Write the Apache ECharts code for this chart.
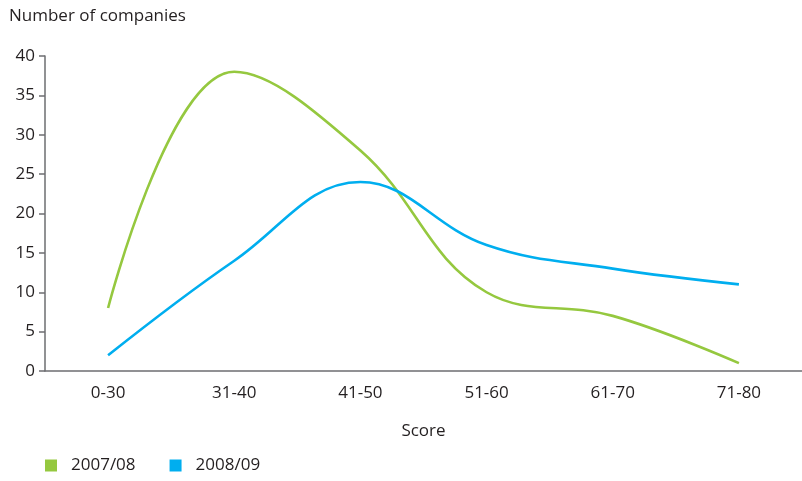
<!DOCTYPE html>
<html>
<head>
<meta charset="utf-8">
<script src="https://cdn.jsdelivr.net/npm/echarts@6/dist/echarts.min.js"></script>
<style>
  html, body { margin: 0; padding: 0; background: #fff; }
  #chart { width: 802px; height: 481px; }
</style>
</head>
<body>
<div id="chart"></div>
<script>
// Score bands and the number of companies in each, per reporting year
const scoreBands = ['0-30', '31-40', '41-50', '51-60', '61-70', '71-80'];
const seriesNames = ['2007/08', '2008/09'];
const companies2007 = [8, 38, 28, 10, 7, 1];
const companies2008 = [2, 14, 24, 16, 13, 11];
const yTicks = [0, 5, 10, 15, 20, 25, 30, 35, 40];

const FONT = '"Open Sans", "Noto Sans", sans-serif';
const TEXT = '#231f20';
const AXIS = '#6d6e71';
const GREEN = '#95c83f';
const BLUE = '#00aeef';

const chart = echarts.init(document.getElementById('chart'));

chart.setOption({
  animation: false,
  textStyle: { fontFamily: FONT },
  title: {
    text: 'Number of companies',
    left: 4,
    top: 3,
    textStyle: { fontFamily: FONT, fontSize: 17, fontWeight: 'normal', color: TEXT }
  },
  legend: {
    left: 40,
    bottom: 2,
    itemWidth: 12,
    itemHeight: 12,
    itemGap: 34,
    icon: 'rect',
    textStyle: { fontFamily: FONT, fontSize: 17, color: TEXT, padding: [0, 0, 0, 9] },
    data: seriesNames.map(n => ({ name: n, icon: 'rect' }))
  },
  grid: {
    left: 45,
    top: 56,
    width: 764,
    bottom: 110,
    containLabel: false
  },
  xAxis: {
    type: 'category',
    data: scoreBands,
    boundaryGap: true,
    name: 'Score',
    nameLocation: 'middle',
    nameGap: 52,
    nameTextStyle: { fontFamily: FONT, fontSize: 17, color: TEXT },
    axisLine: { lineStyle: { color: AXIS, width: 1.5 } },
    axisTick: { alignWithLabel: true, length: 7, lineStyle: { color: AXIS, width: 1.5 } },
    axisLabel: { fontFamily: FONT, fontSize: 17, color: TEXT, margin: 14 },
    splitLine: { show: false }
  },
  yAxis: {
    type: 'value',
    min: yTicks[0],
    max: yTicks[yTicks.length - 1],
    interval: 5,
    axisLine: { show: true, lineStyle: { color: AXIS, width: 1.5 } },
    axisTick: { show: true, length: 6, lineStyle: { color: AXIS, width: 1.5 } },
    axisLabel: { fontFamily: FONT, fontSize: 17, color: TEXT, margin: 10 },
    splitLine: { show: false }
  },
  series: [
    {
      name: seriesNames[0],
      type: 'line',
      data: companies2007,
      smooth: 0.4,
      symbol: 'none',
      color: GREEN,
      lineStyle: { color: GREEN, width: 2.6 }
    },
    {
      name: seriesNames[1],
      type: 'line',
      data: companies2008,
      smooth: 0.4,
      symbol: 'none',
      color: BLUE,
      lineStyle: { color: BLUE, width: 2.6 }
    }
  ]
});
</script>
</body>
</html>
